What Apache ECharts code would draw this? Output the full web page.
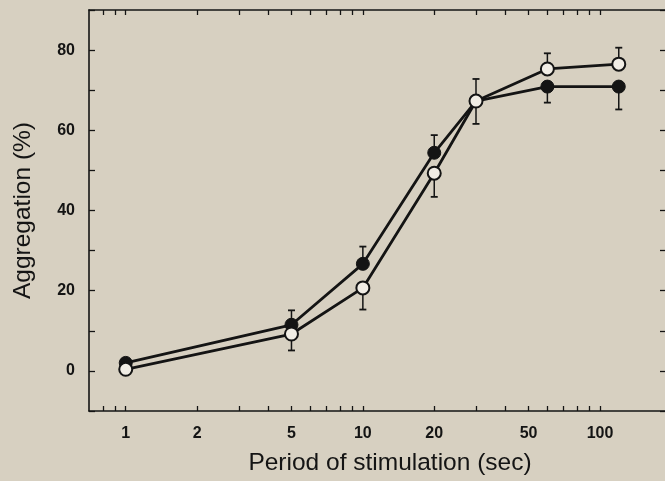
<!DOCTYPE html>
<html>
<head>
<meta charset="utf-8">
<script src="https://cdn.jsdelivr.net/npm/echarts@6/dist/echarts.min.js"></script>
<style>
html,body{margin:0;padding:0;background:#d7d0c1;}
#chart{width:665px;height:481px;}
</style>
</head>
<body>
<div id="chart"></div>
<script>
// Data
const periods = [1, 5, 10, 20, 30, 60, 120];
const filledValues = [2.0, 11.5, 26.7, 54.4, 67.3, 70.9, 70.9];
const openValues = [0.4, 9.2, 20.7, 49.3, 67.3, 75.3, 76.5];
const filledErrEnd = [null, 15.1, 31.0, 58.8, 72.8, 66.9, 65.2];
const openErrEnd = [null, 5.1, 15.3, 43.4, 61.6, 79.2, 80.6];
const xTickLabels = [1, 2, 5, 10, 20, 50, 100];
const xAllTicks = [0.8, 0.9, 1, 2, 3, 4, 5, 6, 7, 8, 9, 10, 20, 30, 40, 50, 60, 70, 80, 90, 100];
const yTickLabels = [0, 20, 40, 60, 80];
const xMin = 0.7, xMax = 188;
const yMin = -10, yMax = 90;

const INK = '#141414';
const FONT = '"Liberation Sans", Arial, Helvetica, sans-serif';

const chart = echarts.init(document.getElementById('chart'), null, {renderer: 'canvas'});

function pairs(xs, ys) { return xs.map((x, i) => [x, ys[i]]); }
function errData(xs, ys, ends) {
  const out = [];
  xs.forEach((x, i) => { if (ends[i] !== null) out.push([x, ys[i], ends[i]]); });
  return out;
}
const lg = v => Math.log10(v);

function renderErr(params, api) {
  const x = api.value(0), y = api.value(1), e = api.value(2);
  const p1 = api.coord([x, y]);
  const p2 = api.coord([x, e]);
  const hw = 3.5;
  const st = {stroke: INK, lineWidth: 1.5};
  return {
    type: 'group',
    children: [
      {type: 'line', shape: {x1: p1[0], y1: p1[1], x2: p2[0], y2: p2[1]}, style: st},
      {type: 'line', shape: {x1: p2[0] - hw, y1: p2[1], x2: p2[0] + hw, y2: p2[1]}, style: {stroke: INK, lineWidth: 1.8}}
    ]
  };
}

const tickAxisCommon = {
  type: 'value',
  min: lg(xMin),
  max: lg(xMax),
  axisLine: {show: false, onZero: false},
  splitLine: {show: false},
  axisTick: {show: true, inside: true, length: 5, customValues: xAllTicks.map(lg), lineStyle: {color: INK, width: 1.3}}
};

const option = {
  backgroundColor: '#d7d0c1',
  animation: false,
  grid: {left: 89, right: 0, top: 10, bottom: 68, containLabel: false},
  xAxis: [
    {
      type: 'log',
      position: 'bottom',
      min: xMin,
      max: xMax,
      logBase: 10,
      axisLine: {show: true, onZero: false, lineStyle: {color: INK, width: 1.6}},
      axisTick: {show: false},
      axisLabel: {show: false},
      splitLine: {show: false},
      minorTick: {show: false},
      name: 'Period of stimulation (sec)',
      nameLocation: 'middle',
      nameGap: 40,
      nameTextStyle: {fontFamily: FONT, fontSize: 24.5, color: INK, padding: [0, 0, 0, 26]}
    },
    Object.assign({}, tickAxisCommon, {
      position: 'bottom',
      axisLabel: {
        show: true,
        customValues: xTickLabels.map(lg),
        margin: 15,
        fontFamily: FONT,
        fontSize: 16,
        fontWeight: 'bold',
        color: INK,
        formatter: v => String(Math.round(Math.pow(10, v)))
      }
    }),
    Object.assign({}, tickAxisCommon, {
      position: 'top',
      axisLine: {show: true, onZero: false, lineStyle: {color: INK, width: 1.6}},
      axisLabel: {show: false}
    })
  ],
  yAxis: [
    {
      type: 'value',
      position: 'left',
      min: yMin,
      max: yMax,
      interval: 10,
      axisLine: {show: true, onZero: false, lineStyle: {color: INK, width: 1.6}},
      axisTick: {show: true, inside: true, length: 6, lineStyle: {color: INK, width: 1.3}},
      splitLine: {show: false},
      axisLabel: {
        margin: 14,
        fontFamily: FONT,
        fontSize: 16,
        fontWeight: 'bold',
        color: INK,
        formatter: v => (yTickLabels.indexOf(v) >= 0 ? String(v) : '')
      },
      name: 'Aggregation (%)',
      nameLocation: 'middle',
      nameRotate: 90,
      nameGap: 53,
      nameTextStyle: {fontFamily: FONT, fontSize: 24.5, color: INK}
    },
    {
      type: 'value',
      position: 'right',
      min: yMin,
      max: yMax,
      interval: 10,
      axisLine: {show: false, onZero: false},
      axisTick: {show: true, inside: true, length: 5, lineStyle: {color: INK, width: 1.3}},
      axisLabel: {show: false},
      splitLine: {show: false}
    }
  ],
  series: [
    {
      type: 'custom',
      name: 'filled-err',
      xAxisIndex: 0, yAxisIndex: 0,
      renderItem: renderErr,
      encode: {x: 0, y: 1},
      data: errData(periods, filledValues, filledErrEnd),
      z: 1
    },
    {
      type: 'custom',
      name: 'open-err',
      xAxisIndex: 0, yAxisIndex: 0,
      renderItem: renderErr,
      encode: {x: 0, y: 1},
      data: errData(periods, openValues, openErrEnd),
      z: 1
    },
    {
      type: 'line',
      name: 'filled',
      xAxisIndex: 0, yAxisIndex: 0,
      data: pairs(periods, filledValues),
      symbol: 'circle',
      symbolSize: 13,
      showSymbol: true,
      lineStyle: {color: INK, width: 2.8},
      itemStyle: {color: INK, borderColor: INK, borderWidth: 1},
      z: 3
    },
    {
      type: 'line',
      name: 'open',
      xAxisIndex: 0, yAxisIndex: 0,
      data: pairs(periods, openValues),
      symbol: 'circle',
      symbolSize: 13,
      showSymbol: true,
      lineStyle: {color: INK, width: 2.8},
      itemStyle: {color: '#f1ede5', borderColor: INK, borderWidth: 2},
      z: 4
    }
  ]
};
chart.setOption(option);
</script>
</body>
</html>
